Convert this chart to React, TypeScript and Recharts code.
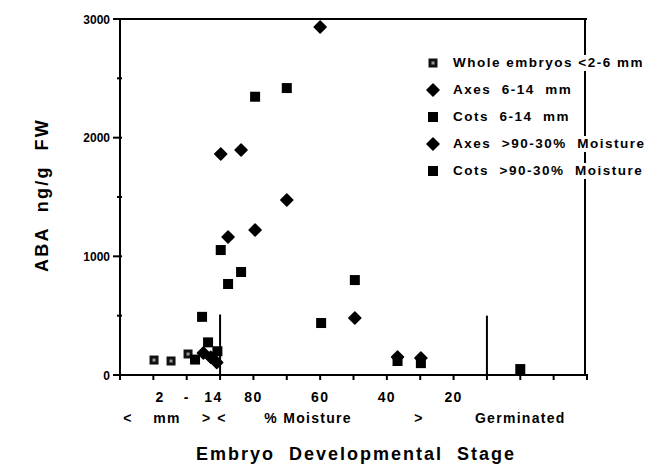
import {
  ReferenceLine,
  Scatter,
  ScatterChart,
  XAxis,
  YAxis,
} from "recharts";

// x = position along the developmental-stage axis (one unit per tick)
const wholeEmbryos = [
  { stage: 1.02, aba: 126 },
  { stage: 1.53, aba: 118 },
  { stage: 2.04, aba: 177 },
];
const axesMm = [
  { stage: 2.5, aba: 185 },
  { stage: 2.72, aba: 150 },
  { stage: 2.9, aba: 105 },
];
const cotsMm = [
  { stage: 2.25, aba: 130 },
  { stage: 2.46, aba: 490 },
  { stage: 2.64, aba: 275 },
  { stage: 2.92, aba: 200 },
];
const axesMoisture = [
  { stage: 3.02, aba: 1862 },
  { stage: 3.24, aba: 1163 },
  { stage: 3.63, aba: 1896 },
  { stage: 4.05, aba: 1222 },
  { stage: 5.0, aba: 1475 },
  { stage: 6.0, aba: 2933 },
  { stage: 7.04, aba: 480 },
  { stage: 8.32, aba: 152 },
  { stage: 9.02, aba: 143 },
];
const cotsMoisture = [
  { stage: 3.02, aba: 1053 },
  { stage: 3.24, aba: 767 },
  { stage: 3.63, aba: 868 },
  { stage: 4.05, aba: 2345 },
  { stage: 5.0, aba: 2418 },
  { stage: 6.03, aba: 438 },
  { stage: 7.04, aba: 800 },
  { stage: 8.32, aba: 118 },
  { stage: 9.02, aba: 100 },
  { stage: 12.0, aba: 50 },
];

const stageTicks = [0, 1, 2, 3, 4, 5, 6, 7, 8, 9, 10, 11, 12, 13, 14];
const abaTicks = [0, 500, 1000, 1500, 2000, 2500, 3000];
const row1Ticks = [1.2, 2.0, 2.8, 4, 6, 8, 10];
const row1Labels = ["2", "-", "14", "80", "60", "40", "20"];
const row2Ticks = [0.24, 1.41, 2.6, 3.06, 5.64, 8.96, 12.0];
const row2Labels = ["<", "mm", ">", "<", "% Moisture", ">", "Germinated"];
const legendNames = [
  "Whole embryos <2-6 mm",
  "Axes  6-14  mm",
  "Cots  6-14  mm",
  "Axes  >90-30%  Moisture",
  "Cots  >90-30%  Moisture",
];
const legendShapes = ["dotted", "diamond", "square", "diamond", "square"];

const allXTicks = Array.from(new Set([...stageTicks, ...row1Ticks, ...row2Ticks])).sort((a, b) => a - b);

const FONT = '"Liberation Sans", Arial, Helvetica, sans-serif';

const SquareMark = (props: any) => (
  <rect x={props.cx - 5} y={props.cy - 5} width={10} height={10} fill="#000" />
);

const DiamondMark = (props: any) => (
  <path
    d={`M${props.cx},${props.cy - 6} L${props.cx + 6},${props.cy} L${props.cx},${props.cy + 6} L${props.cx - 6},${props.cy} Z`}
    fill="#000"
    stroke="#000"
    strokeWidth={1.5}
    strokeLinejoin="round"
  />
);

const DottedMark = (props: any) => (
  <g>
    <rect x={props.cx - 4.5} y={props.cy - 4.5} width={9} height={9} fill="#111" />
    <rect x={props.cx - 1.5} y={props.cy - 1.5} width={3} height={3} fill="#999" />
  </g>
);

const YTick = (props: any) => {
  const { x, y, payload } = props;
  const major = payload.value % 1000 === 0;
  return (
    <g>
      <line x1={x + 2} x2={x + (major ? -7 : -3)} y1={y} y2={y} stroke="#000" strokeWidth={2} />
      {major && (
        <text x={x - 10} y={y} dy={4.5} textAnchor="end" fontSize={12} fontWeight="bold" fontFamily={FONT} fill="#000">
          {payload.value}
        </text>
      )}
    </g>
  );
};

const labelStyle = {
  textAnchor: "middle" as const,
  fontSize: 14,
  fontWeight: "bold",
  letterSpacing: 1.3,
  fontFamily: FONT,
  fill: "#000",
};

const XTick = (props: any) => {
  const { x, y, payload } = props;
  const v = payload.value;
  const i1 = row1Ticks.indexOf(v);
  const i2 = row2Ticks.indexOf(v);
  return (
    <g>
      {stageTicks.includes(v) && (
        <line x1={x} x2={x} y1={y - 1} y2={y + 5} stroke="#000" strokeWidth={2} />
      )}
      {i1 >= 0 && (
        <text x={x} y={y + 27} {...labelStyle}>
          {row1Labels[i1]}
        </text>
      )}
      {i2 >= 0 && (
        <text x={x} y={y + 48} {...labelStyle}>
          {row2Labels[i2]}
        </text>
      )}
    </g>
  );
};

const LegendIcon = ({ kind }: { kind: string }) => (
  <svg width={14} height={14} style={{ display: "block" }}>
    {kind === "square" && <SquareMark cx={7} cy={7} />}
    {kind === "diamond" && <DiamondMark cx={7} cy={7} />}
    {kind === "dotted" && <DottedMark cx={7} cy={7} />}
  </svg>
);

const ChartLegend = () => (
  <div style={{ position: "absolute", left: 426, top: 49, fontFamily: FONT }}>
    {legendNames.map((name, i) => (
      <div key={name} style={{ display: "flex", alignItems: "center", height: 27 }}>
        <div style={{ width: 14, marginRight: 13 }}>
          <LegendIcon kind={legendShapes[i]} />
        </div>
        <span
          style={{
            background: "#fff",
            fontSize: 13.5,
            fontWeight: "bold",
            letterSpacing: 1.5,
            whiteSpace: "pre",
            lineHeight: "16px",
          }}
        >
          {name}
        </span>
      </div>
    ))}
  </div>
);

export default function App() {
  return (
    <div style={{ position: "absolute", left: 0, top: 0, width: 649, height: 464, background: "#fff" }}>
      <ScatterChart width={649} height={464} margin={{ top: 19, right: 62, bottom: 0, left: 40 }}>
        <XAxis
          type="number"
          dataKey="stage"
          domain={[0, 14]}
          ticks={allXTicks}
          tick={<XTick />}
          tickLine={false}
          tickSize={0}
          tickMargin={0}
          interval={0}
          axisLine={{ stroke: "#000", strokeWidth: 2 }}
          height={89}
          allowDataOverflow
          label={{
            content: () => (
              <text x={356} y={460} textAnchor="middle" fontSize={18} fontWeight="bold" letterSpacing={2} fontFamily={FONT} fill="#000" style={{ whiteSpace: "pre" }}>
                {"Embryo  Developmental  Stage"}
              </text>
            ),
          }}
        />
        <YAxis
          type="number"
          dataKey="aba"
          domain={[0, 3000]}
          ticks={abaTicks}
          tick={<YTick />}
          tickLine={false}
          tickSize={0}
          tickMargin={0}
          interval={0}
          axisLine={{ stroke: "#000", strokeWidth: 2 }}
          width={80}
          label={{
            content: () => (
              <text
                x={48}
                y={195}
                transform="rotate(-90 48 195)"
                textAnchor="middle"
                fontSize={18}
                fontWeight="bold"
                letterSpacing={2.3}
                fontFamily={FONT}
                fill="#000"
                style={{ whiteSpace: "pre" }}
              >
                {"ABA  ng/g  FW"}
              </text>
            ),
          }}
        />
        <ReferenceLine y={3000} stroke="#000" strokeWidth={2} />
        <ReferenceLine
          segment={[{ x: 13.94, y: 0 }, { x: 13.94, y: 2995 }]}
          stroke="#000"
          strokeWidth={2}
        />
        <ReferenceLine segment={[{ x: 3, y: 0 }, { x: 3, y: 510 }]} stroke="#000" strokeWidth={2} />
        <ReferenceLine segment={[{ x: 11, y: 0 }, { x: 11, y: 500 }]} stroke="#000" strokeWidth={2} />
        <Scatter name="Whole embryos <2-6 mm" data={wholeEmbryos} shape={<DottedMark />} isAnimationActive={false} />
        <Scatter name="Axes 6-14 mm" data={axesMm} shape={<DiamondMark />} isAnimationActive={false} />
        <Scatter name="Cots 6-14 mm" data={cotsMm} shape={<SquareMark />} isAnimationActive={false} />
        <Scatter name="Axes >90-30% Moisture" data={axesMoisture} shape={<DiamondMark />} isAnimationActive={false} />
        <Scatter name="Cots >90-30% Moisture" data={cotsMoisture} shape={<SquareMark />} isAnimationActive={false} />
      </ScatterChart>
      <ChartLegend />
    </div>
  );
}
